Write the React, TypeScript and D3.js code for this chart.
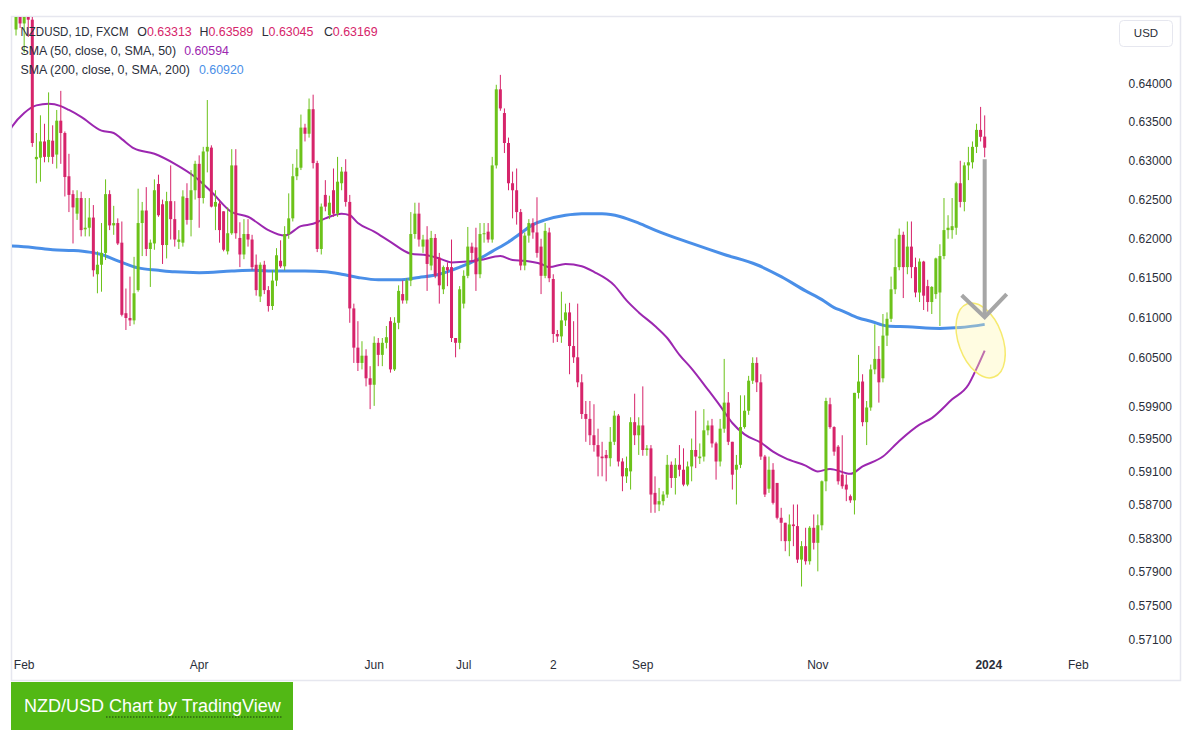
import React from "react";
import * as d3 from "d3";

// ---------- DATA ----------
const FIRST_BAR = -2; // bar index of the first candle (0 = 1 Feb 2023)

// [open, high, low, close] per daily bar
const candles: [number, number, number, number][] = [
  [0.6472, 0.651, 0.6464, 0.6495],
  [0.6495, 0.6505, 0.6474, 0.648],
  [0.648, 0.653, 0.6441, 0.6515],
  [0.6515, 0.6538, 0.6462, 0.6485],
  [0.6485, 0.6495, 0.6318, 0.6323],
  [0.6302, 0.6336, 0.6271, 0.6305],
  [0.6304, 0.6359, 0.6273, 0.6325],
  [0.6325, 0.6348, 0.6298, 0.6305],
  [0.6305, 0.6389, 0.6298, 0.6327],
  [0.6326, 0.6346, 0.6296, 0.6305],
  [0.6308, 0.6366, 0.629, 0.6352],
  [0.6352, 0.6391, 0.6296, 0.6336],
  [0.6336, 0.6338, 0.6254, 0.6279],
  [0.628, 0.6309, 0.6234, 0.6256],
  [0.6257, 0.6262, 0.6194, 0.624],
  [0.6232, 0.6262, 0.6224, 0.6252],
  [0.6252, 0.626, 0.6203, 0.6211],
  [0.6212, 0.6252, 0.6203, 0.6214],
  [0.6214, 0.6252, 0.6203, 0.6227],
  [0.6227, 0.6243, 0.6152, 0.616],
  [0.6155, 0.6184, 0.6131, 0.6167],
  [0.6167, 0.622, 0.6133, 0.6182],
  [0.6182, 0.6276, 0.6173, 0.6257],
  [0.6257, 0.6262, 0.6211, 0.6217],
  [0.6217, 0.6242, 0.6205, 0.622],
  [0.622, 0.6226, 0.6192, 0.6194],
  [0.6195, 0.6222, 0.6102, 0.6104],
  [0.6106, 0.6137, 0.6085, 0.61],
  [0.61, 0.6152, 0.609, 0.6097],
  [0.6097, 0.6177, 0.6092, 0.6131],
  [0.6135, 0.6264, 0.6133, 0.622],
  [0.622, 0.6247, 0.6178, 0.6236],
  [0.6236, 0.6266, 0.6178, 0.6187],
  [0.6187, 0.6199, 0.6139, 0.6195],
  [0.6194, 0.6276, 0.6186, 0.6262],
  [0.627, 0.6282, 0.6228, 0.623],
  [0.6244, 0.625, 0.6168, 0.6192],
  [0.6192, 0.626, 0.6175, 0.6248],
  [0.6248, 0.6294, 0.6199, 0.6225],
  [0.6225, 0.6248, 0.619, 0.6199],
  [0.6196, 0.6211, 0.6187, 0.6199],
  [0.6195, 0.6262, 0.619, 0.6254],
  [0.6252, 0.6271, 0.6218, 0.6224],
  [0.6224, 0.6288, 0.6203, 0.6262],
  [0.6262, 0.63, 0.625, 0.6296],
  [0.6296, 0.6307, 0.6214, 0.6252],
  [0.6252, 0.6318, 0.6245, 0.6312],
  [0.6312, 0.6379, 0.6285, 0.6318],
  [0.6317, 0.632, 0.624, 0.6241],
  [0.6241, 0.6262, 0.6211, 0.6247],
  [0.6245, 0.625, 0.6195, 0.6211],
  [0.6235, 0.6235, 0.6184, 0.6186],
  [0.6184, 0.624, 0.618, 0.6207],
  [0.6207, 0.6315, 0.6205, 0.6294],
  [0.6294, 0.6315, 0.62, 0.6207],
  [0.6201, 0.6221, 0.6164, 0.618],
  [0.618, 0.6225, 0.6174, 0.6206],
  [0.6206, 0.6225, 0.619, 0.6199],
  [0.6199, 0.6205, 0.616, 0.6164],
  [0.6167, 0.618, 0.6128, 0.6135],
  [0.6127, 0.617, 0.612, 0.6167],
  [0.6167, 0.6172, 0.613, 0.6135],
  [0.6135, 0.614, 0.6108, 0.6115],
  [0.6115, 0.616, 0.611, 0.6147],
  [0.6147, 0.6188, 0.614, 0.6179],
  [0.6172, 0.6198, 0.6163, 0.6165],
  [0.6165, 0.6216, 0.616, 0.6206],
  [0.6206, 0.6258, 0.62, 0.6226],
  [0.6226, 0.6296, 0.6222, 0.628],
  [0.628, 0.6315, 0.6275, 0.6291],
  [0.6291, 0.636, 0.6288, 0.6343],
  [0.6343, 0.6348, 0.6325, 0.6335],
  [0.6335, 0.6381, 0.633, 0.6367],
  [0.6367, 0.6386, 0.629, 0.6297],
  [0.6297, 0.63, 0.6183, 0.6187],
  [0.6187, 0.6245, 0.618, 0.6241],
  [0.6256, 0.6275, 0.6235, 0.6241],
  [0.623, 0.6255, 0.6225, 0.6246],
  [0.6262, 0.629, 0.6228, 0.6232],
  [0.6232, 0.6305, 0.6228, 0.6273],
  [0.6271, 0.6292, 0.6262, 0.6286],
  [0.6286, 0.6302, 0.6241, 0.6247],
  [0.6247, 0.6256, 0.6094, 0.6112],
  [0.6112, 0.6118, 0.6044, 0.6063],
  [0.6063, 0.6096, 0.6034, 0.6044],
  [0.6044, 0.6071, 0.6036, 0.6053],
  [0.6053, 0.6061, 0.6015, 0.6025],
  [0.6025, 0.604, 0.5987, 0.6017],
  [0.6017, 0.6077, 0.5991, 0.6069],
  [0.6069, 0.6075, 0.604, 0.6054],
  [0.6054, 0.6075, 0.604, 0.6069],
  [0.6069, 0.609, 0.6062, 0.6076],
  [0.6096, 0.6101, 0.6032, 0.6036],
  [0.6036, 0.6101, 0.6034, 0.6094],
  [0.6094, 0.6141, 0.6086, 0.6134],
  [0.613, 0.6147, 0.6118, 0.6122],
  [0.6122, 0.615, 0.6118, 0.6147],
  [0.6147, 0.6234, 0.614, 0.6206],
  [0.6206, 0.6246, 0.62, 0.6232],
  [0.6232, 0.6246, 0.619, 0.6199],
  [0.619, 0.6205, 0.6182, 0.6199],
  [0.6199, 0.6216, 0.6134, 0.6168],
  [0.6166, 0.621, 0.616, 0.6201],
  [0.6201, 0.6206, 0.615, 0.6153],
  [0.6176, 0.6182, 0.6118, 0.6141],
  [0.6136, 0.6166, 0.613, 0.6164],
  [0.6164, 0.617, 0.614, 0.616],
  [0.6164, 0.6199, 0.607, 0.6075],
  [0.6075, 0.6075, 0.6051, 0.6069],
  [0.6069, 0.614, 0.6061, 0.6136],
  [0.6118, 0.616, 0.6112, 0.6153],
  [0.6153, 0.6215, 0.615, 0.619],
  [0.619, 0.6195, 0.617, 0.6182],
  [0.6189, 0.6214, 0.6134, 0.6155],
  [0.6155, 0.622, 0.615, 0.6206],
  [0.6206, 0.622, 0.6195, 0.6207],
  [0.6209, 0.622, 0.6195, 0.6199],
  [0.6199, 0.6305, 0.6195, 0.6294],
  [0.6294, 0.6399, 0.629, 0.6393],
  [0.6393, 0.6412, 0.6365, 0.6368],
  [0.6362, 0.6368, 0.631, 0.6323],
  [0.6323, 0.633, 0.6262, 0.6271],
  [0.6271, 0.6286, 0.6226, 0.6262],
  [0.6262, 0.629, 0.6218, 0.6234],
  [0.6234, 0.6238, 0.616, 0.6166],
  [0.6166, 0.6208, 0.616, 0.6204],
  [0.6204, 0.6225, 0.6195, 0.622],
  [0.622, 0.6226, 0.62, 0.6208],
  [0.6208, 0.6253, 0.6176, 0.6182],
  [0.619, 0.62, 0.613, 0.6153],
  [0.6153, 0.622, 0.615, 0.621],
  [0.6208, 0.6214, 0.6145, 0.615],
  [0.6149, 0.6155, 0.6069, 0.608],
  [0.608, 0.6085, 0.607, 0.6077],
  [0.6077, 0.6133, 0.6069, 0.6097],
  [0.6097, 0.6118, 0.609, 0.6107],
  [0.6107, 0.6119, 0.603, 0.6065],
  [0.6065, 0.6096, 0.6044, 0.6051],
  [0.6051, 0.6118, 0.6014, 0.602],
  [0.602, 0.603, 0.5975, 0.5981],
  [0.5981, 0.5997, 0.5947, 0.5975],
  [0.5975, 0.5997, 0.5943, 0.5955],
  [0.5955, 0.5993, 0.5935, 0.5943],
  [0.5943, 0.5963, 0.5905, 0.5929],
  [0.5929, 0.5947, 0.5905, 0.5927],
  [0.5931, 0.5937, 0.5899, 0.5927],
  [0.5927, 0.5965, 0.5917, 0.5947],
  [0.5947, 0.5985, 0.5943, 0.5979],
  [0.5979, 0.5981, 0.5917, 0.5923],
  [0.5923, 0.5927, 0.5887, 0.5905],
  [0.5905, 0.5929, 0.5897, 0.5915],
  [0.5911, 0.5977, 0.5889, 0.5971],
  [0.5971, 0.6006, 0.5943, 0.5955],
  [0.5955, 0.5977, 0.5931, 0.5967],
  [0.5967, 0.6015, 0.593, 0.5937],
  [0.5937, 0.5943, 0.593, 0.5939],
  [0.5939, 0.5943, 0.5861, 0.5883],
  [0.5885, 0.5905, 0.5861, 0.5871],
  [0.5871, 0.5891, 0.5863, 0.5875],
  [0.5875, 0.5887, 0.587, 0.5883],
  [0.5883, 0.5931, 0.5879, 0.5919],
  [0.5919, 0.5923, 0.5891, 0.5903],
  [0.5903, 0.5927, 0.5883, 0.5919],
  [0.5919, 0.5943, 0.5905, 0.5913],
  [0.5913, 0.5939, 0.5893, 0.5895],
  [0.5895, 0.5923, 0.5893, 0.5917],
  [0.5917, 0.5951, 0.5899, 0.5937],
  [0.5937, 0.5985, 0.5915, 0.5929],
  [0.5927, 0.5945, 0.592, 0.5929],
  [0.5929, 0.5987, 0.5923, 0.5961],
  [0.5961, 0.5973, 0.5955, 0.5967],
  [0.5967, 0.5975, 0.594, 0.5945],
  [0.5945, 0.5947, 0.5901, 0.5923],
  [0.5923, 0.5975, 0.5917, 0.5963],
  [0.5963, 0.6049, 0.5958, 0.5995],
  [0.5995, 0.6008, 0.5943, 0.5947],
  [0.5947, 0.5947, 0.5889, 0.5907],
  [0.5913, 0.5931, 0.5871, 0.5919],
  [0.5919, 0.6004, 0.5915, 0.5965],
  [0.5965, 0.6004, 0.5963, 0.5985],
  [0.5985, 0.6028, 0.598, 0.6022],
  [0.6022, 0.6051, 0.6018, 0.6044],
  [0.6044, 0.6051, 0.6008, 0.602],
  [0.602, 0.603, 0.5925, 0.5929],
  [0.5929, 0.5931, 0.588, 0.5883],
  [0.589, 0.5929, 0.5885, 0.5913],
  [0.5913, 0.5921, 0.5871, 0.5873],
  [0.5897, 0.5897, 0.5853, 0.5855],
  [0.5855, 0.5867, 0.5827, 0.5849],
  [0.5849, 0.5849, 0.5815, 0.5827],
  [0.5827, 0.5859, 0.5809, 0.5847],
  [0.5847, 0.5871, 0.5821, 0.5845],
  [0.5845, 0.5871, 0.5801, 0.5805],
  [0.5805, 0.5827, 0.5773, 0.5821],
  [0.5821, 0.5843, 0.5799, 0.5803],
  [0.5803, 0.5845, 0.5799, 0.5843],
  [0.5843, 0.5859, 0.5817, 0.5825],
  [0.5825, 0.5859, 0.5791, 0.5846],
  [0.5846, 0.59, 0.584, 0.5899],
  [0.5899, 0.6001, 0.5887, 0.5997],
  [0.5993, 0.6001, 0.5963, 0.5965],
  [0.5965, 0.5966, 0.593, 0.5935],
  [0.5941, 0.5943, 0.5895, 0.5899],
  [0.5907, 0.5955, 0.589, 0.5893],
  [0.5895, 0.5907, 0.5875, 0.5889],
  [0.5881, 0.5883, 0.5873, 0.5876],
  [0.5876, 0.6007, 0.5859, 0.6007],
  [0.6007, 0.6054, 0.6, 0.6021],
  [0.6021, 0.603, 0.5966, 0.5971],
  [0.5971, 0.5997, 0.5943, 0.5989],
  [0.5989, 0.6042, 0.5985, 0.6036],
  [0.6036, 0.6092, 0.603, 0.6049],
  [0.6049, 0.6065, 0.5995, 0.602],
  [0.6025, 0.6105, 0.602, 0.6078],
  [0.6078, 0.6107, 0.6065, 0.6099],
  [0.6099, 0.6152, 0.6095, 0.6136],
  [0.6136, 0.62, 0.613, 0.6164],
  [0.6164, 0.6213, 0.616, 0.6205],
  [0.6205, 0.6209, 0.6125, 0.6164],
  [0.6164, 0.6222, 0.6155, 0.619],
  [0.619, 0.6222, 0.615, 0.6164],
  [0.6164, 0.6176, 0.6126, 0.6132],
  [0.6132, 0.6175, 0.612, 0.6171],
  [0.6171, 0.6172, 0.611, 0.6128],
  [0.614, 0.6148, 0.6108, 0.612],
  [0.612, 0.614, 0.6105, 0.6139],
  [0.613, 0.6176, 0.6124, 0.6175],
  [0.6132, 0.6193, 0.609, 0.6178],
  [0.6178, 0.6252, 0.6174, 0.6211],
  [0.6211, 0.623, 0.62, 0.6214],
  [0.6211, 0.6252, 0.62, 0.6216],
  [0.6214, 0.6273, 0.6205, 0.6271],
  [0.6271, 0.63, 0.624, 0.6247],
  [0.6247, 0.6298, 0.6235, 0.6294],
  [0.6294, 0.6318, 0.6275, 0.6298],
  [0.6298, 0.6325, 0.629, 0.6318],
  [0.6318, 0.6348, 0.631, 0.634],
  [0.634, 0.637, 0.6325, 0.6331],
  [0.63313, 0.63589, 0.63045, 0.63169],
];

// [bar index, value] samples of the moving averages
const sma50: [number, number][] = [
  [-4, 0.6335], [-3, 0.6344], [0, 0.6362], [3, 0.6372], [6, 0.6374], [9, 0.6371],
  [11, 0.6366], [14, 0.6357], [19, 0.6339], [22, 0.6336], [24, 0.6328], [27, 0.6316],
  [32, 0.6309], [37, 0.6296], [42, 0.6279], [46, 0.626], [51, 0.6234], [55, 0.6228],
  [60, 0.6211], [64, 0.6204], [68, 0.6216], [71, 0.6219], [74, 0.6226], [78, 0.6232],
  [80, 0.623], [82, 0.622], [86, 0.6209], [90, 0.6196], [95, 0.6181], [99, 0.6179],
  [102, 0.6175], [105, 0.617], [109, 0.6171], [112, 0.6173], [117, 0.6178], [120, 0.6173],
  [123, 0.6172], [127, 0.6168], [129, 0.6164], [133, 0.6168], [137, 0.6165], [140, 0.6158],
  [145, 0.6141], [148, 0.6122], [151, 0.6107], [155, 0.609], [158, 0.6075], [161, 0.6054],
  [164, 0.6037], [168, 0.6011], [171, 0.5991], [174, 0.597], [177, 0.5956], [181, 0.5946],
  [184, 0.5935], [187, 0.5927], [192, 0.5918], [195, 0.5911], [198, 0.5914], [203, 0.5908],
  [206, 0.5917], [211, 0.5929], [215, 0.5948], [220, 0.5968], [223, 0.5976], [228, 0.5999],
  [232, 0.6017], [234, 0.6037], [236, 0.60594],
];

const sma200: [number, number][] = [
  [-4, 0.6191], [2, 0.6189], [7, 0.6186], [12, 0.6185], [16, 0.6183], [19, 0.618],
  [23, 0.6172], [28, 0.6163], [33, 0.616], [37, 0.6158], [43, 0.6157], [51, 0.6159],
  [56, 0.616], [62, 0.6159], [69, 0.6159], [74, 0.6158], [78, 0.6155], [82, 0.6151],
  [87, 0.6148], [92, 0.6148], [97, 0.6151], [102, 0.6155], [105, 0.616], [109, 0.6168],
  [112, 0.6175], [115, 0.6184], [119, 0.6196], [122, 0.6207], [125, 0.6218], [128, 0.6224],
  [133, 0.623], [137, 0.6232], [142, 0.6232], [151, 0.622], [155, 0.6211], [164, 0.6194],
  [172, 0.618], [180, 0.6167], [186, 0.6152], [192, 0.6134], [196, 0.6123], [199, 0.6113],
  [201, 0.6109], [205, 0.61], [208, 0.6096], [212, 0.609], [217, 0.6089], [225, 0.6087],
  [230, 0.6088], [236, 0.6092],
];

const priceTicks = [0.64, 0.635, 0.63, 0.625, 0.62, 0.615, 0.61, 0.605, 0.599, 0.595, 0.591, 0.587, 0.583, 0.579, 0.575, 0.571];

const timeTicks: [string, number, boolean][] = [
  ["Feb", 0, false], ["Apr", 43, false], ["Jun", 86, false], ["Jul", 108, false], ["2", 130, false],
  ["Sep", 152, false], ["Nov", 195, false], ["2024", 237, true], ["Feb", 259, false],
];

const legendTitle = "NZDUSD, 1D, FXCM";
const legendOHLC: [string, string][] = [["O", "0.63313"], ["H", "0.63589"], ["L", "0.63045"], ["C", "0.63169"]];
const sma50Label = "SMA (50, close, 0, SMA, 50)";
const sma50Value = "0.60594";
const sma200Label = "SMA (200, close, 0, SMA, 200)";
const sma200Value = "0.60920";

// annotation anchors (data space)
const arrowBar = 236;
const arrowFrom = 0.6302;
const arrowTo = 0.6101;
const ellipseBar = 235;
const ellipsePrice = 0.6072;

// ---------- STYLE ----------
const UP = "#6cc21a";
const DOWN = "#d6246a";
const SMA50_COLOR = "#9c27b0";
const SMA200_COLOR = "#4a8fe8";
const FONT = "'Liberation Sans', Arial, sans-serif";
const TXT = "#2a2e39";

export default function App() {
  const x = d3.scaleLinear().domain([0, 259]).range([24.16, 24.16 + 4.07 * 259]);
  const y = d3.scaleLog().domain([0.571, 0.64]).range([640, 84]);

  const line = d3
    .line<[number, number]>()
    .x((d) => x(d[0]))
    .y((d) => y(d[1]))
    .curve(d3.curveMonotoneX);

  const bodyW = 3;
  const ax = x(arrowBar);
  const ay0 = y(arrowFrom);
  const ay1 = y(arrowTo);

  return (
    <svg
      width={1197}
      height={741}
      style={{ position: "absolute", left: 0, top: 0, background: "#fff" }}
      fontFamily={FONT}
    >
      <defs>
        <clipPath id="pane">
          <rect x={12} y={17} width={1168} height={634} />
        </clipPath>
      </defs>
      <rect x={0} y={0} width={1197} height={741} fill="#fff" />
      {/* frame */}
      <rect x={11.5} y={16.5} width={1169} height={664} fill="none" stroke="#e6e7ef" strokeWidth={1.5} />

      <g clipPath="url(#pane)">
        {/* SMA 200 */}
        <path d={line(sma200) || ""} fill="none" stroke={SMA200_COLOR} strokeWidth={3} strokeLinejoin="round" />
        {/* SMA 50 */}
        <path d={line(sma50) || ""} fill="none" stroke={SMA50_COLOR} strokeWidth={2} strokeLinejoin="round" />
        {/* candles */}
        {candles.map((c, k) => {
          const i = k + FIRST_BAR;
          const [o, h, l, cl] = c;
          const xc = x(i);
          const up = cl >= o;
          const col = up ? UP : DOWN;
          const yTop = y(Math.max(o, cl));
          const yBot = y(Math.min(o, cl));
          return (
            <g key={k}>
              <rect x={xc - 0.5} y={y(h)} width={1} height={Math.max(1, y(l) - y(h))} fill={col} />
              <rect x={xc - bodyW / 2} y={yTop} width={bodyW} height={Math.max(1, yBot - yTop)} fill={col} />
            </g>
          );
        })}
        {/* yellow ellipse highlight */}
        <ellipse
          cx={x(ellipseBar)}
          cy={y(ellipsePrice)}
          rx={22}
          ry={39}
          transform={`rotate(-20 ${x(ellipseBar)} ${y(ellipsePrice)})`}
          fill="rgba(255,246,170,0.35)"
          stroke="#f6ea6e"
          strokeWidth={1.5}
        />
        {/* grey arrow */}
        <g stroke="#a6a6a6" strokeWidth={4} fill="none" strokeLinecap="butt">
          <line x1={ax} y1={ay0} x2={ax} y2={ay1} />
          <polyline points={`${ax - 23},${ay1 - 22} ${ax},${ay1} ${ax + 22},${ay1 - 23}`} strokeLinejoin="miter" />
        </g>
      </g>

      {/* legend */}
      <g fontSize={12.4} fill={TXT}>
        <text x={20.5} y={35.5} textLength={108} lengthAdjust="spacingAndGlyphs">
          {legendTitle}
        </text>
        {legendOHLC.map(([k, v], j) => (
          <text key={k} x={137.3 + j * 62.2} y={35.5}>
            {k}
            <tspan fill={DOWN}>{v}</tspan>
          </text>
        ))}
        <text x={20.5} y={54.5}>
          {sma50Label}
          <tspan fill={SMA50_COLOR} dx={8}>{sma50Value}</tspan>
        </text>
        <text x={20.5} y={73.5}>
          {sma200Label}
          <tspan fill={SMA200_COLOR} dx={9}>{sma200Value}</tspan>
        </text>
      </g>

      {/* price axis */}
      <rect x={1119.5} y={20.5} width={53} height={26} rx={4} fill="#fff" stroke="#e6e7ef" />
      <text x={1146} y={37} fontSize={11.5} textAnchor="middle" fill={TXT}>
        USD
      </text>
      <g fontSize={12} fill={TXT} textAnchor="end">
        {priceTicks.map((p) => (
          <text key={p} x={1172} y={y(p) + 4}>
            {p.toFixed(5)}
          </text>
        ))}
      </g>

      {/* time axis */}
      <g fontSize={12} fill={TXT} textAnchor="middle">
        {timeTicks.map(([lab, i, bold]) => (
          <text key={lab + i} x={x(i)} y={669} fontWeight={bold ? "bold" : "normal"}>
            {lab}
          </text>
        ))}
      </g>

      {/* attribution button */}
      <rect x={11} y={682} width={282} height={48} fill="#52b815" />
      <text x={24} y={712} fontSize={18} fill="#fff">
        NZD/USD <tspan>Chart by TradingView</tspan>
      </text>
      <line x1={106} y1={717} x2={282} y2={717} stroke="#1d3b10" strokeWidth={1} strokeDasharray="1.5 1.5" />
    </svg>
  );
}
